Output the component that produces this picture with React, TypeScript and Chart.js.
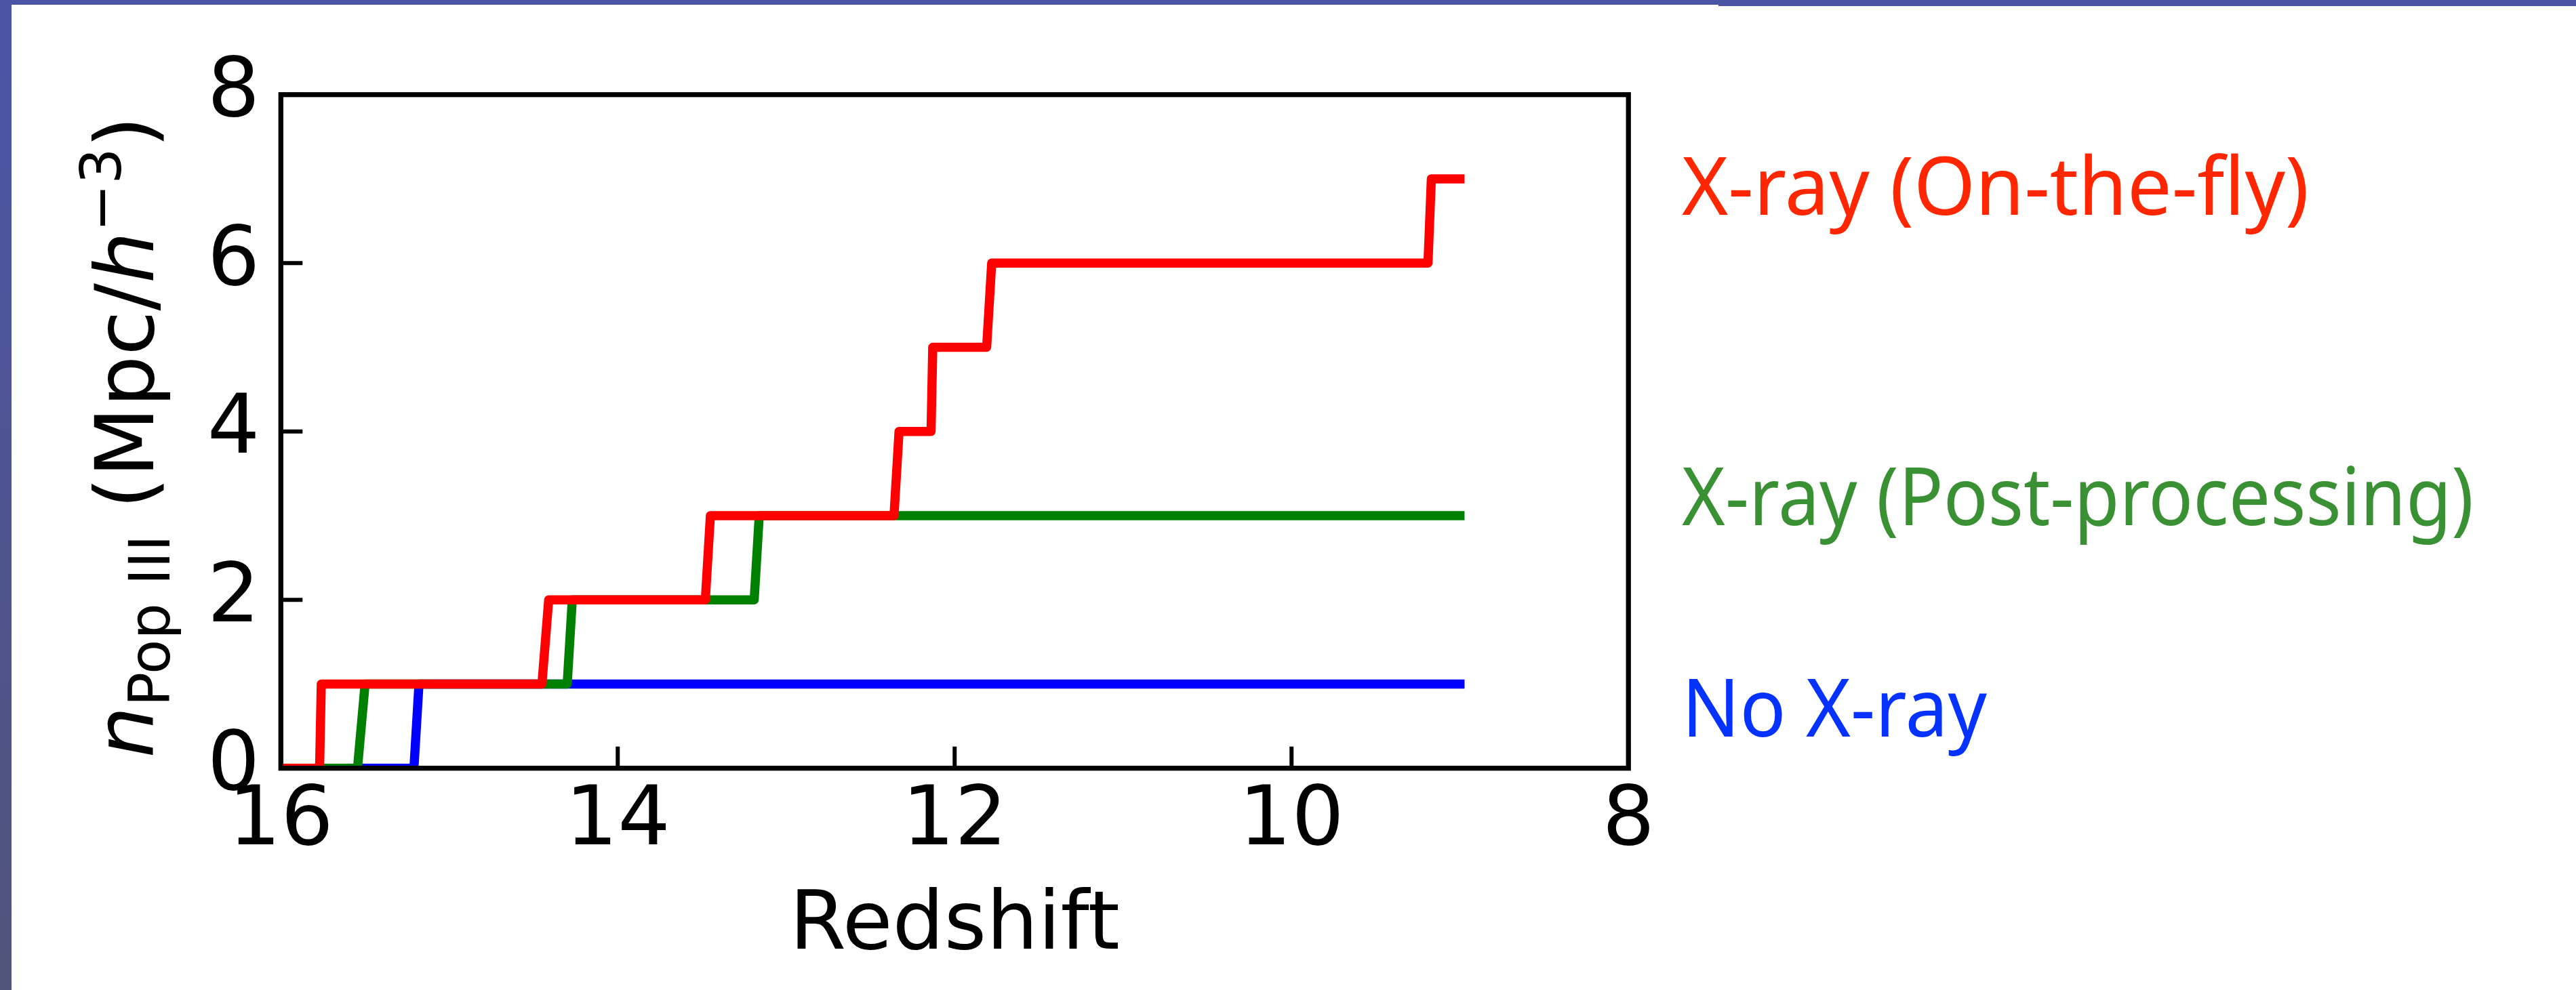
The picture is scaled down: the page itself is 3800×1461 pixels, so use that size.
import React, { useEffect, useRef } from 'react';
import { Chart, registerables } from 'chart.js';

Chart.register(...registerables);

// ---- data ----
const redshiftTicks = [16, 14, 12, 10, 8];
const countTicks = [0, 2, 4, 6, 8];

const onTheFlyZ = [16, 15.77, 15.76, 14.45, 14.41, 13.48, 13.45, 12.36, 12.33, 12.14, 12.13, 11.81, 11.78, 9.19, 9.17, 9.0];
const onTheFlyN = [0, 0, 1, 1, 2, 2, 3, 3, 4, 4, 5, 5, 6, 6, 7, 7];
const postProcZ = [16, 15.545, 15.5, 14.3, 14.27, 13.19, 13.16, 9.0];
const postProcN = [0, 0, 1, 1, 2, 2, 3, 3];
const noXrayZ = [16, 15.21, 15.18, 9.0];
const noXrayN = [0, 0, 1, 1];

const seriesLabels = ['X-ray (On-the-fly)', 'X-ray (Post-processing)', 'No X-ray'];
const xTitle = 'Redshift';
const yTitleParts = ['n', 'Pop III', ' (Mpc/', 'h', '\u22123', ')'];

// ---- layout / style ----
const W = 3800;
const H = 1461;
const AREA = { left: 414.3, right: 2402.2, top: 139.7, bottom: 1133.7 };
const FONT = '"DejaVu Sans", sans-serif';

const zip = (xs: number[], ys: number[]) => xs.map((x, i) => ({ x, y: ys[i] }));

const decorPlugin = {
  id: 'decor',
  beforeDraw(chart: any) {
    const ctx = chart.ctx as CanvasRenderingContext2D;
    ctx.save();
    ctx.fillStyle = '#ffffff';
    ctx.fillRect(0, 0, W, H);
    // slide frame bands
    ctx.fillStyle = '#4a55a5';
    ctx.fillRect(0, 0, 2535, 7);
    ctx.fillRect(2535, 0, W - 2535, 9);
    const g = ctx.createLinearGradient(0, 0, 0, H);
    g.addColorStop(0, '#4a55a8');
    g.addColorStop(1, '#51547a');
    ctx.fillStyle = g;
    ctx.fillRect(0, 0, 17, H);
    ctx.restore();
  },
  afterDraw(chart: any) {
    const ctx = chart.ctx as CanvasRenderingContext2D;
    const { left, right, top, bottom } = chart.chartArea;
    const xs = chart.scales.x;
    const ys = chart.scales.y;
    ctx.save();
    // inward ticks
    ctx.strokeStyle = '#000';
    ctx.lineWidth = 6;
    ctx.lineCap = 'butt';
    ctx.beginPath();
    xs.ticks.forEach((t: any) => {
      const px = xs.getPixelForValue(t.value);
      ctx.moveTo(px, bottom);
      ctx.lineTo(px, bottom - 32);
    });
    ys.ticks.forEach((t: any) => {
      const py = ys.getPixelForValue(t.value);
      ctx.moveTo(left, py);
      ctx.lineTo(left + 32, py);
    });
    ctx.stroke();
    // spines
    ctx.lineWidth = 7.3;
    ctx.lineJoin = 'miter';
    ctx.strokeRect(left, top, right - left, bottom - top);

    // y axis title (mathtext-like)
    const big = 120;
    const small = 84;
    const parts = [
      { t: yTitleParts[0], f: `italic ${big}px ${FONT}`, dy: 0 },
      { t: yTitleParts[1], f: `${small}px ${FONT}`, dy: 24 },
      { t: yTitleParts[2], f: `${big}px ${FONT}`, dy: 0 },
      { t: yTitleParts[3], f: `italic ${big}px ${FONT}`, dy: 0 },
      { t: yTitleParts[4], f: `${small}px ${FONT}`, dy: -48 },
      { t: yTitleParts[5], f: `${big}px ${FONT}`, dy: 0 },
    ];
    let total = 0;
    const widths = parts.map((p) => {
      ctx.font = p.f;
      const w = ctx.measureText(p.t).width;
      total += w;
      return w;
    });
    ctx.translate(226, 645);
    ctx.rotate(-Math.PI / 2);
    ctx.fillStyle = '#000';
    ctx.textBaseline = 'alphabetic';
    ctx.textAlign = 'left';
    let x = -total / 2;
    parts.forEach((p, i) => {
      ctx.font = p.f;
      ctx.fillText(p.t, x, p.dy);
      x += widths[i];
    });
    ctx.restore();

    // series annotations
    ctx.save();
    ctx.font = `118px "Noto Sans", sans-serif`;
    ctx.textBaseline = 'alphabetic';
    ctx.textAlign = 'left';
    const notes = [
      { t: seriesLabels[0], c: '#ff2600', y: 317, w: 925 },
      { t: seriesLabels[1], c: '#3a9134', y: 775, w: 1168 },
      { t: seriesLabels[2], c: '#0532ff', y: 1087, w: 450 },
    ];
    notes.forEach((n) => {
      ctx.fillStyle = n.c;
      ctx.fillText(n.t, 2481, n.y, n.w);
    });
    ctx.restore();
  },
};

export default function App() {
  const ref = useRef<HTMLCanvasElement | null>(null);

  useEffect(() => {
    if (!ref.current) return;
    const lineCommon = {
      pointRadius: 0,
      borderWidth: 13.5,
      borderJoinStyle: 'round' as const,
      borderCapStyle: 'square' as const,
      tension: 0,
      fill: false,
      clip: 0,
    };
    const chart = new Chart(ref.current, {
      type: 'line',
      data: {
        datasets: [
          { ...lineCommon, label: seriesLabels[0], data: zip(onTheFlyZ, onTheFlyN), borderColor: '#ff0000', order: 0 },
          { ...lineCommon, label: seriesLabels[1], data: zip(postProcZ, postProcN), borderColor: '#008000', order: 1 },
          { ...lineCommon, label: seriesLabels[2], data: zip(noXrayZ, noXrayN), borderColor: '#0000ff', order: 2 },
        ],
      },
      options: {
        responsive: false,
        animation: false,
        devicePixelRatio: 1,
        events: [],
        layout: { padding: { left: 0, top: AREA.top, right: W - AREA.right, bottom: 0 } },
        plugins: { legend: { display: false }, tooltip: { enabled: false }, title: { display: false } },
        scales: {
          x: {
            type: 'linear',
            min: 8,
            max: 16,
            reverse: true,
            afterBuildTicks: (s: any) => {
              s.ticks = [...redshiftTicks].sort((a, b) => a - b).map((v) => ({ value: v }));
            },
            afterFit: (s: any) => {
              s.height = H - AREA.bottom;
            },
            ticks: {
              font: { family: FONT, size: 122 },
              color: '#000',
              padding: 7,
              maxRotation: 0,
              autoSkip: false,
            },
            grid: { display: false, drawTicks: false },
            border: { display: false },
            title: {
              display: true,
              text: xTitle,
              color: '#000',
              font: { family: FONT, size: 120 },
              padding: { top: 0, bottom: 20 },
            },
          },
          y: {
            type: 'linear',
            min: 0,
            max: 8,
            afterBuildTicks: (s: any) => {
              s.ticks = [...countTicks].sort((a, b) => a - b).map((v) => ({ value: v }));
            },
            afterFit: (s: any) => {
              s.width = AREA.left;
            },
            ticks: {
              font: { family: FONT, size: 122 },
              color: '#000',
              padding: 31,
              autoSkip: false,
            },
            grid: { display: false, drawTicks: false },
            border: { display: false },
          },
        },
      } as any,
      plugins: [decorPlugin],
    });
    return () => chart.destroy();
  }, []);

  return (
    <div style={{ position: 'absolute', left: 0, top: 0, width: W, height: H, background: '#fff' }}>
      <canvas ref={ref} width={W} height={H} style={{ display: 'block', width: W, height: H }} />
    </div>
  );
}
